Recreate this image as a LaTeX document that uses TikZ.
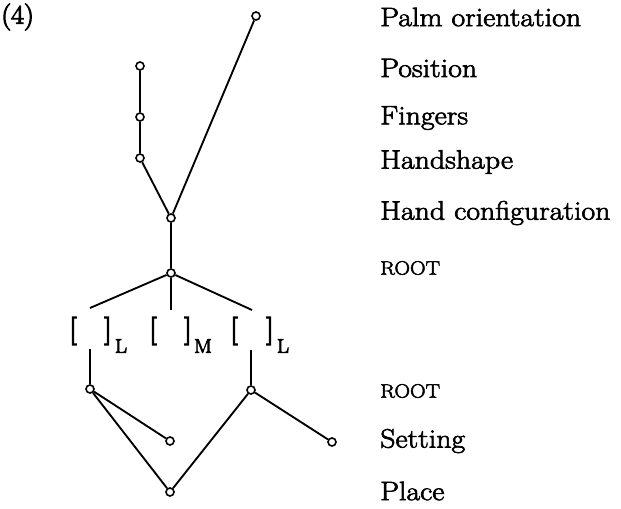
\documentclass[tikz,border=0pt]{standalone}
\usepackage{fontspec}
\newfontfamily\labfont{Latin Modern Roman}[FakeStretch=1.12,FakeBold=2.5]
\newfontfamily\brkfont{Latin Modern Roman}[FakeStretch=1.05,FakeBold=4]
\begin{document}
\begin{tikzpicture}[x=0.75pt,y=-0.75pt,
  dot/.style={circle,draw,fill=white,line width=1.2pt,inner sep=0pt,minimum size=6pt},
  lab/.style={anchor=west,inner sep=0pt,font=\labfont\fontsize{20}{24}\selectfont},
  sc/.style={anchor=west,inner sep=0pt,font=\labfont\fontsize{14.5}{17}\selectfont},
  brk/.style={inner sep=0pt,font=\brkfont\fontsize{21}{24}\selectfont},
  sub/.style={inner sep=0pt,font=\brkfont\fontsize{15}{18}\selectfont},
  edge/.style={line width=1.4pt}]
\useasboundingbox (0,0) rectangle (621,508);
% tree nodes
\node[dot] (palm) at (256,16) {};
\node[dot] (pos) at (140,66) {};
\node[dot] (fing) at (140,117) {};
\node[dot] (hs) at (140,158) {};
\node[dot] (hc) at (171,218) {};
\node[dot] (root) at (171,273) {};
\coordinate (tL) at (90,308);
\coordinate (tM) at (171,310);
\coordinate (tR) at (252,310);
% bracket row
\node[brk] (o1) at (73,331) {[};
\node[brk] (c1) at (108,331) {]};
\node[sub] (s1) at (121,346) {L};
\node[brk] (o2) at (153,331) {[};
\node[brk] (c2) at (188,331) {]};
\node[sub] (s2) at (203,346) {M};
\node[brk] (o3) at (234,331) {[};
\node[brk] (c3) at (270,331) {]};
\node[sub] (s3) at (283,346) {L};
\coordinate (uL) at (90,349);
\coordinate (uR) at (251,350);
\node[dot] (rL) at (90,389) {};
\node[dot] (rR) at (251,390) {};
\node[dot] (sL) at (170,441) {};
\node[dot] (sR) at (332,442) {};
\node[dot] (pl) at (170,492) {};
% edges
\draw[edge] (pos) -- (fing) -- (hs) -- (hc);
\draw[edge] (palm) -- (hc);
\draw[edge] (hc) -- (root);
\draw[edge] (root) -- (tL);
\draw[edge] (root) -- (tM);
\draw[edge] (root) -- (tR);
\draw[edge] (uL) -- (rL);
\draw[edge] (uR) -- (rR);
\draw[edge] (rL) -- (sL);
\draw[edge] (rL) -- (pl);
\draw[edge] (rR) -- (pl);
\draw[edge] (rR) -- (sR);
% labels
\node[inner sep=0pt,anchor=west,font=\brkfont\fontsize{20}{24}\selectfont] (num) at (1,17) {(4)};
\node[lab] (l1) at (380,17) {Palm orientation};
\node[lab] (l2) at (380,68) {Position};
\node[lab] (l3) at (380,118) {Fingers};
\node[lab] (l4) at (380,162) {Handshape};
\node[lab] (l5) at (380,213) {Hand configuration};
\node[sc] (l6) at (380,268) {ROOT};
\node[sc] (l7) at (380,391) {ROOT};
\node[lab] (l8) at (380,441) {Setting};
\node[lab] (l9) at (380,491) {Place};
\end{tikzpicture}
\end{document}
